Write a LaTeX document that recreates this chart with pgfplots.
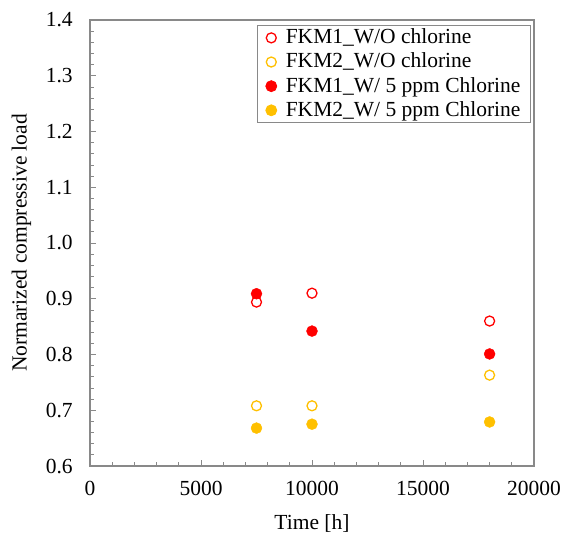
\documentclass[border=0pt]{standalone}
\usepackage{fontspec}
\setmainfont{Liberation Serif}
\usepackage{pgfplots}
\pgfplotsset{compat=1.18}
\definecolor{myred}{RGB}{255,0,0}
\definecolor{myorange}{RGB}{255,192,0}
\definecolor{axgray}{RGB}{137,137,137}
\begin{document}
\fontsize{21.5}{25}\selectfont
\begin{tikzpicture}
\useasboundingbox (-90pt,-72pt) rectangle (479pt,466pt);
\begin{axis}[
  at={(0,0)}, anchor=south west,
  scale only axis, width=444pt, height=446pt,
  xmin=0, xmax=20000, ymin=0.6, ymax=1.4,
  xtick={0,5000,...,20000}, ytick={0.6,0.7,...,1.41},
  minor x tick num=4, minor y tick num=4,
  tick pos=left, tick align=inside,
  major tick length=6pt, minor tick length=4pt,
  every tick/.style={axgray, line width=0.8pt},
  axis line style={axgray, line width=1.2pt},
  /pgf/number format/assume math mode=true,
  scaled x ticks=false,
  xticklabel style={/pgf/number format/fixed, /pgf/number format/1000 sep={}, yshift=-8pt},
  yticklabel style={/pgf/number format/fixed, /pgf/number format/fixed zerofill, /pgf/number format/precision=1, xshift=-10pt},
  xlabel={Time [h]}, ylabel={Normarized compressive load},
  xlabel style={yshift=-4pt},
  ylabel style={yshift=0pt},
  legend style={at={(0.993,0.989)}, anchor=north east, draw=axgray, line width=0.8pt,
    font=\fontsize{21.5}{25}\selectfont, row sep=2pt, inner xsep=8pt, inner ysep=1.5pt,
    column sep=7pt, cells={anchor=west}},
  legend cell align=left,
]
\addplot[only marks, mark=o, mark size=5pt, myred, line width=1.3pt] coordinates {(7500,0.894) (10000,0.910) (18000,0.860)};
\addlegendentry{FKM1\_W/O chlorine}
\addplot[only marks, mark=o, mark size=5pt, myorange, line width=1.3pt] coordinates {(7500,0.708) (10000,0.708) (18000,0.763)};
\addlegendentry{FKM2\_W/O chlorine}
\addplot[only marks, mark=*, mark size=5.5pt, myred, draw=myred] coordinates {(7500,0.909) (10000,0.842) (18000,0.801)};
\addlegendentry{FKM1\_W/ 5 ppm Chlorine}
\addplot[only marks, mark=*, mark size=5.5pt, myorange, draw=myorange] coordinates {(7500,0.668) (10000,0.675) (18000,0.679)};
\addlegendentry{FKM2\_W/ 5 ppm Chlorine}
\end{axis}
\end{tikzpicture}
\end{document}
